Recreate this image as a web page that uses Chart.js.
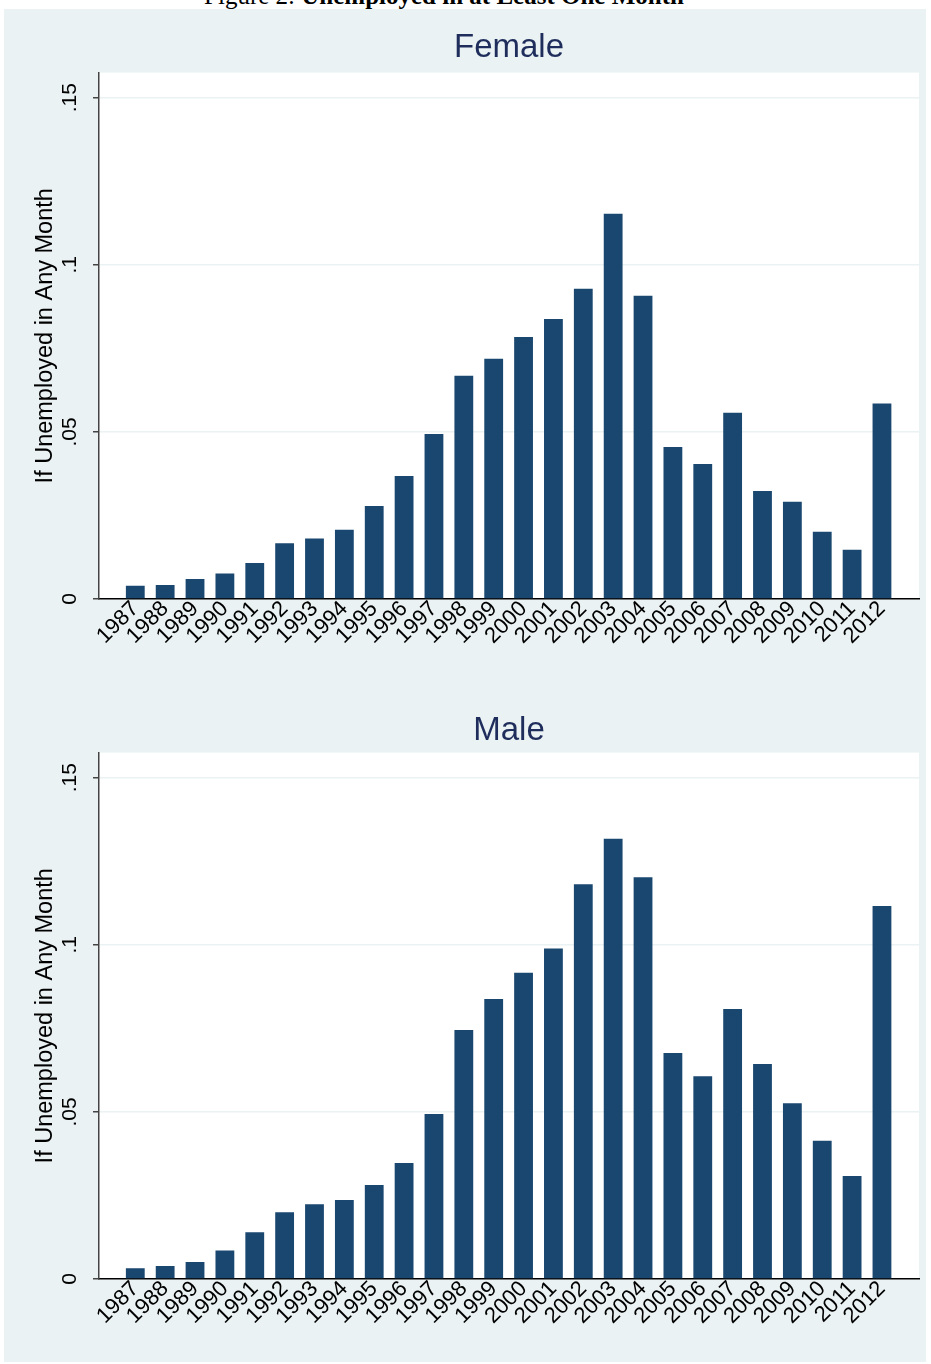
<!DOCTYPE html>
<html lang="en">
<head>
<meta charset="UTF-8">
<title>Unemployed in at Least One Month</title>
<script src="https://cdn.jsdelivr.net/npm/chart.js"></script>
<style>
  body { margin: 0; background: #fff; width: 931px; height: 1364px; position: relative; overflow: hidden; }
  #caption { position: absolute; left: 0; width: 888px; top: -17px; text-align: center; white-space: nowrap;
             font-family: "Liberation Serif", "DejaVu Serif", serif; font-size: 25px; line-height: 25px; color: #000; }
  #panel { position: absolute; left: 4px; top: 9px; width: 922px; height: 1353px; background: #eaf2f3; }
  canvas { position: absolute; left: 0; }
</style>
</head>
<body>
<div id="caption">Figure 2: <b>Unemployed in at Least One Month</b></div>
<div id="panel">
  <canvas id="female" width="922" height="676" style="top:0"></canvas>
  <canvas id="male" width="922" height="673" style="top:680px"></canvas>
</div>

<script>
// values
const years = ['1987','1988','1989','1990','1991','1992','1993','1994','1995','1996','1997','1998','1999',
               '2000','2001','2002','2003','2004','2005','2006','2007','2008','2009','2010','2011','2012'];
const femaleRate = [0.0040, 0.0042, 0.0060, 0.0076, 0.0108, 0.0167, 0.0181, 0.0207, 0.0278, 0.0368, 0.0494, 0.0668, 0.0719,
                    0.0784, 0.0838, 0.0928, 0.1153, 0.0907, 0.0455, 0.0404, 0.0557, 0.0323, 0.0291, 0.0201, 0.0147, 0.0585];
const maleRate = [0.0032, 0.0039, 0.0051, 0.0085, 0.0140, 0.0200, 0.0224, 0.0236, 0.0281, 0.0347, 0.0494, 0.0745, 0.0838,
                  0.0916, 0.0989, 0.1181, 0.1317, 0.1202, 0.0676, 0.0607, 0.0808, 0.0643, 0.0526, 0.0414, 0.0308, 0.1116];
const yTicks = [0, 0.05, 0.1, 0.15];

Chart.defaults.font.family = '"Liberation Sans", Arial, sans-serif';

const plotBg = {
    id: 'plotBg',
    beforeDraw(chart) {
        const a = chart.chartArea;
        chart.ctx.save();
        chart.ctx.fillStyle = '#fff';
        chart.ctx.fillRect(a.left, a.top, a.right - a.left, a.bottom - a.top);
        chart.ctx.restore();
    }
};

function fmt(v) {
    return v === 0 ? '0' : String(v).replace(/^0/, '');
}

function makeChart(id, title, rates, xHeight, titlePad) {
    new Chart(document.getElementById(id), {
        type: 'bar',
        data: {
            datasets: [{
                data: rates.map((v, i) => ({ x: i, y: v })),
                backgroundColor: '#1a476f',
                categoryPercentage: 0.63,
                barPercentage: 1
            }]
        },
        options: {
            responsive: false,
            animation: false,
            layout: { padding: { left: 0, right: 7, top: 0, bottom: 0 } },
            plugins: {
                legend: { display: false },
                tooltip: { enabled: false },
                title: {
                    display: true, text: title, color: '#1f2d5c', fullSize: false,
                    font: { size: 33, weight: 'normal' },
                    padding: titlePad
                }
            },
            scales: {
                x: {
                    type: 'linear', min: -1.215, max: 26.24, offset: false,
                    afterBuildTicks: s => { s.ticks = years.map((y, i) => ({ value: i })); },
                    afterFit: s => { s.height = xHeight; },
                    grid: { display: false, drawTicks: false },
                    border: { color: '#000', width: 1.5 },
                    ticks: {
                        autoSkip: false, minRotation: 45, maxRotation: 45, padding: -3,
                        color: '#000', font: { size: 22 },
                        callback: v => years[v] ?? ''
                    }
                },
                y: {
                    min: 0, max: 0.1575,
                    afterBuildTicks: s => { s.ticks = yTicks.map(v => ({ value: v })); },
                    afterFit: s => { s.width = 95; },
                    grid: { color: '#eaf2f3', lineWidth: 1.5, drawTicks: true, tickLength: 6, tickColor: '#444' },
                    border: { color: '#444', width: 1.5 },
                    ticks: {
                        minRotation: 90, maxRotation: 90, crossAlign: 'center', padding: 8,
                        color: '#000', font: { size: 21 },
                        callback: fmt
                    },
                    title: {
                        display: true, text: 'If Unemployed in Any Month', color: '#000',
                        font: { size: 23.5 }, padding: { top: 27, bottom: 0 }
                    }
                }
            }
        },
        plugins: [plotBg]
    });
}

makeChart('female', 'Female', femaleRate, 86, { top: 19, bottom: 5 });
makeChart('male', 'Male', maleRate, 83, { top: 22, bottom: 2 });
</script>
</body>
</html>
